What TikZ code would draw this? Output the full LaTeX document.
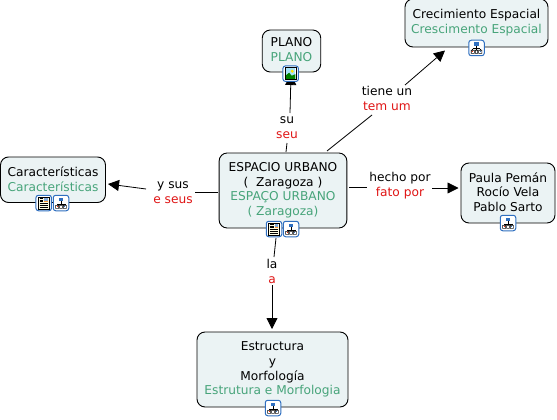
\documentclass[tikz,border=0pt]{standalone}
\usepackage{fontspec}
\setmainfont{DejaVu Sans}
\usetikzlibrary{arrows.meta}
\definecolor{boxfill}{HTML}{EBF3F4}
\definecolor{engreen}{HTML}{47A47A}
\definecolor{lred}{HTML}{E01515}
\definecolor{iconblue}{HTML}{2F6FC0}
\tikzset{
  x=1pt,y=-1pt,
  concept/.style={draw=black,line width=0.9pt,fill=boxfill,rounded corners=8pt,inner sep=0pt,align=center,font=\fontsize{12.2}{14.8}\selectfont},
  linklabel/.style={inner sep=0pt,align=center,font=\fontsize{12.2}{14.8}\selectfont},
  conn/.style={draw=black,line width=0.8pt},
  arr/.style={conn,-{Triangle[length=11pt,width=11pt]}},
  iconframe/.style={draw=iconblue,line width=1pt,fill=white,rounded corners=2.5pt,minimum width=15.5pt,minimum height=15.5pt,inner sep=0pt},
  pics/maparrow/.style={code={
    \draw[line width=0.6pt,black] (0,-2)--(0,1) (-3.8,0.8)--(3.8,0.8) (-3.8,0.8)--(-3.8,2) (3.8,0.8)--(3.8,2) (0,1)--(0,2);
    \fill[iconblue] (-2.2,-5.5) rectangle (2.2,-2);
    \fill[black] (-5.7,2) rectangle (-2,5.7) (-1.5,2) rectangle (1.5,5.7) (2,2) rectangle (5.7,5.7);
    \fill[white] (-5,2.7) rectangle (-2.7,5) (-0.8,2.7) rectangle (0.8,5) (2.7,2.7) rectangle (5,5);
    \fill[red!70!orange] (-4.4,3.3) rectangle (-3.3,4.4);
    \fill[iconblue] (3.3,3.3) rectangle (4.4,4.4);
  }},
  pics/docicon/.style={code={
    \draw[black,line width=0.8pt,fill=white!90!yellow] (-5.2,-6) rectangle (5.2,6);
    \fill[iconblue!60] (0.5,-5) rectangle (4.3,-1);
    \fill[orange!80] (0.5,-2.2) rectangle (4.3,-1);
    \draw[black,line width=0.7pt] (-4.2,-4.4)--(-0.5,-4.4) (-4.2,-2.8)--(-0.5,-2.8) (-4.2,-1.2)--(-0.5,-1.2) (-4.2,0.8)--(4.2,0.8) (-4.2,2.4)--(4.2,2.4) (-4.2,4)--(4.2,4);
  }},
  pics/imgicon/.style={code={
    \draw[black,line width=0.8pt,fill=white] (-5.5,-6) rectangle (5.5,6);
    \fill[cyan!35] (-4.7,-5.2) rectangle (4.7,1);
    \fill[yellow!85!orange] (1.5,-2.5) circle (1.7);
    \fill[green!50!black] (-4.7,5.2) -- (-4.7,1.5) -- (-1.5,-1) -- (1,2) -- (4.7,0.5) -- (4.7,5.2) -- cycle;
  }},
}
\begin{document}
\begin{tikzpicture}
\useasboundingbox (0,0) rectangle (557,420);
\fill[white] (0,0) rectangle (557,420);

% concepts
\node[concept,minimum width=127.7pt,minimum height=75pt] (hub) at (283,190.5)
  {ESPACIO URBANO\\(\ \ Zaragoza )\\\textcolor{engreen}{ESPAÇO URBANO}\\\textcolor{engreen}{( Zaragoza)}\\[-11.8pt]};
\node[concept,minimum width=105pt,minimum height=45.5pt] (car) at (53,179.75)
  {Características\\\textcolor{engreen}{Características}\\[-12.8pt]};
\node[concept,minimum width=58.5pt,minimum height=42pt] (plano) at (291.5,51)
  {PLANO\\\textcolor{engreen}{PLANO}\\[-11.8pt]};
\node[concept,minimum width=143pt,minimum height=48pt] (cre) at (476.5,23)
  {Crecimiento Espacial\\\textcolor{engreen}{Crescimento Espacial}};
\node[concept,minimum width=94pt,minimum height=60pt] (pau) at (508,193)
  {Paula Pemán\\Rocío Vela\\Pablo Sarto\\[-12.8pt]};
\node[concept,minimum width=151pt,minimum height=75pt] (est) at (272.5,369.5)
  {Estructura\\y\\Morfología\\\textcolor{engreen}{Estrutura e Morfologia}};

% linking phrases
\node[linklabel] (lsu) at (287,128) {su\\\textcolor{lred}{seu}};
\node[linklabel] (lti) at (387,98.5) {tiene un\\\textcolor{lred}{tem um}};
\node[linklabel] (lys) at (173,192.5) {y sus\\\textcolor{lred}{e seus}};
\node[linklabel] (lhe) at (400,185.5) {hecho por\\\textcolor{lred}{fato por}};
\node[linklabel] (lla) at (272,271.5) {la\\\textcolor{lred}{a}};

% connectors
\coordinate (a1) at (286,152); \coordinate (a2) at (287,143);
\coordinate (a3) at (290,113); \coordinate (a4) at (291,74);
\draw[conn] (a1)--(a2);
\draw[arr] (a3)--(a4);
\coordinate (b1) at (327,151); \coordinate (b2) at (372,115);
\coordinate (b3) at (405,85); \coordinate (b4) at (445,50.5);
\draw[conn] (b1)--(b2);
\draw[arr] (b3)--(b4);
\coordinate (c1) at (218,192); \coordinate (c2) at (195,192);
\coordinate (c3) at (146,189); \coordinate (c4) at (108,184);
\draw[conn] (c1)--(c2);
\draw[arr] (c3)--(c4);
\coordinate (d1) at (349,187); \coordinate (d2) at (367,187);
\coordinate (d3) at (432,188); \coordinate (d4) at (458.5,188);
\draw[conn] (d1)--(d2);
\draw[arr] (d3)--(d4);
\coordinate (e1) at (276,238); \coordinate (e2) at (274,257);
\coordinate (e3) at (272,285); \coordinate (e4) at (272,329);
\draw[conn] (e1)--(e2);
\draw[arr] (e3)--(e4);

% icons
\node[iconframe] (i1) at (274,229) {}; \pic at (i1) {docicon};
\node[iconframe] (i2) at (291,229) {}; \pic at (i2) {maparrow};
\node[iconframe] (i3) at (43.7,203) {}; \pic at (i3) {docicon};
\node[iconframe] (i4) at (61,203) {}; \pic at (i4) {maparrow};
\node[iconframe] (i5) at (290.7,73.7) {}; \pic at (i5) {imgicon};
\node[iconframe] (i6) at (476.5,48) {}; \pic at (i6) {maparrow};
\node[iconframe] (i7) at (508,223) {}; \pic at (i7) {maparrow};
\node[iconframe] (i8) at (273,408) {}; \pic at (i8) {maparrow};
\end{tikzpicture}
\end{document}
